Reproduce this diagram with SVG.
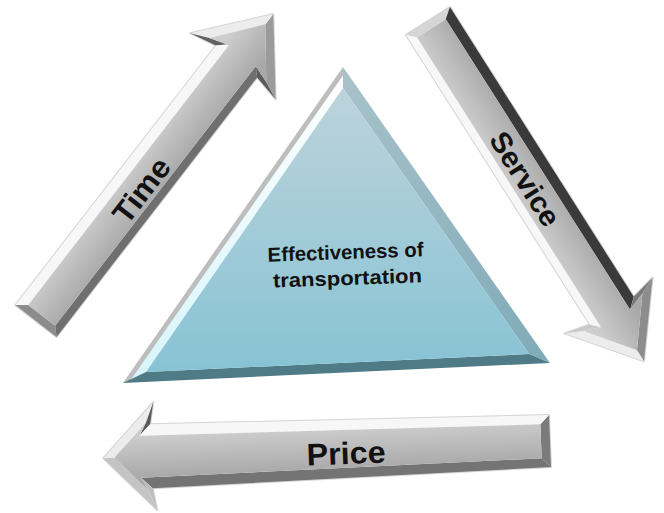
<svg xmlns="http://www.w3.org/2000/svg" width="664" height="513" viewBox="0 0 664 513">
<style>
.lbl{font-family:"Liberation Sans",Arial,sans-serif;font-weight:bold;fill:#111;}
.out{fill:none;stroke:#d4d4d4;stroke-width:2;stroke-linejoin:round;}
.wt{fill:#f7f7f7;}
.hl{fill:#ececec;}
.face{fill:url(#armFace);}
</style>
<defs>
<linearGradient id="armFace" gradientUnits="userSpaceOnUse" x1="0" y1="22" x2="0" y2="-22">
<stop offset="0" stop-color="#cdcdcd"/>
<stop offset="1" stop-color="#a8a8a8"/>
</linearGradient>
<linearGradient id="triFace" gradientUnits="userSpaceOnUse" x1="0" y1="88" x2="0" y2="372">
<stop offset="0" stop-color="#bdd3db"/>
<stop offset="1" stop-color="#87c3d4"/>
</linearGradient>
<linearGradient id="triRight" gradientUnits="userSpaceOnUse" x1="0" y1="67" x2="0" y2="363">
<stop offset="0" stop-color="#a9c2ca"/>
<stop offset="1" stop-color="#7fabb8"/>
</linearGradient>
<linearGradient id="triLeft" gradientUnits="userSpaceOnUse" x1="0" y1="67" x2="0" y2="383">
<stop offset="0" stop-color="#ffffff"/>
<stop offset="1" stop-color="#d6f5fb"/>
</linearGradient>
</defs>

<g id="triangle">
<polygon points="343,67 123,383 146,372 343,88" fill="url(#triLeft)"/>
<polygon points="343,67 123,383 130,381 344,74" fill="#bdbdbd"/>
<polygon points="343,67 550,363 529,354 343,88" fill="url(#triRight)"/>
<polygon points="123,383 550,363 529,354 146,372" fill="#4e7b86"/>
<polygon points="343,88 146,372 529,354" fill="url(#triFace)"/>
<g transform="rotate(-2 346 265)">
<text class="lbl" x="346" y="259" font-size="20" text-anchor="middle" textLength="156" lengthAdjust="spacingAndGlyphs">Effectiveness of</text>
<text class="lbl" x="347" y="285" font-size="20" text-anchor="middle" textLength="149" lengthAdjust="spacingAndGlyphs">transportation</text>
</g>
</g>

<g id="connectors">
<g id="time-arrow" transform="translate(36,321) rotate(-52.3) scale(1,-1)">
<polygon class="out" points="0,-26 328,-26 322,-54 388,0 322,54 328,26 0,26"/>
<polygon points="0,26 0,-26 8,-18 8,18" fill="#8c8c8c"/>
<polygon points="0,-26 328,-26 336,-18 8,-18" fill="#6f6f6f"/>
<polygon points="328,-26 322,-54 330,-36 336,-18" fill="#5c5c5c"/>
<polygon points="322,-54 388,0 375,0 330,-36" fill="#9b9b9b"/>
<polygon class="hl" points="388,0 322,54 330,36 375,0"/>
<polygon points="322,54 328,26 336,18 330,36" fill="#626262"/>
<polygon class="wt" points="328,26 0,26 8,16 336,16"/>
<polygon class="face" points="8,-18 336,-18 330,-36 375,0 330,36 336,16 8,16"/>
</g>
<g id="service-arrow" transform="translate(428,21) rotate(57.6)">
<polygon class="out" points="0,-26 343,-26 337,-52 403,0 337,52 343,26 0,26"/>
<polygon points="0,26 0,-26 8,-18 8,18" fill="#d5d5d5"/>
<polygon points="0,-26 343,-26 352,-16 8,-16" fill="#3a3a3a"/>
<polygon points="343,-26 337,-52 345,-35 352,-16" fill="#7a7a7a"/>
<polygon points="337,-52 403,0 390,0 345,-35" fill="#8d8d8d"/>
<polygon class="hl" points="403,0 337,52 345,35 390,0"/>
<polygon points="337,52 343,26 351,18 345,35" fill="#c9c9c9"/>
<polygon class="wt" points="343,26 0,26 8,18 351,18"/>
<polygon class="face" points="8,-16 352,-16 345,-35 390,0 345,35 351,18 8,18"/>
</g>
<g id="price-arrow" transform="translate(550,441) rotate(177.8)">
<polygon class="out" points="0,-26 399,-32 395,-54 447,0 395,54 399,32 0,26"/>
<polygon points="0,26 0,-26 9,-17 9,17" fill="#7b7b7b"/>
<polygon points="0,-26 399,-32 410,-21 9,-17" fill="#747474"/>
<polygon points="399,-32 395,-54 403,-34 410,-21" fill="#bdbdbd"/>
<polygon points="395,-54 447,0 436,0 403,-34" fill="#c4c4c4"/>
<polygon class="hl" points="447,0 395,54 403,34 436,0"/>
<polygon points="395,54 399,32 410,21 403,34" fill="#5a5a5a"/>
<polygon class="wt" points="399,32 0,26 9,17 410,21"/>
<polygon class="face" points="9,-17 410,-21 403,-34 436,0 403,34 410,21 9,17"/>
</g>
</g>

<g id="label-time" transform="translate(141,190) rotate(-52.3)">
<text class="lbl" x="0" y="11" font-size="30" text-anchor="middle" textLength="74" lengthAdjust="spacingAndGlyphs">Time</text>
</g>
<g id="label-service" transform="translate(525,179) rotate(57.6)">
<text class="lbl" x="0" y="10" font-size="29" text-anchor="middle" textLength="106" lengthAdjust="spacingAndGlyphs">Service</text>
</g>
<g id="label-price" transform="rotate(-2.2 346 453)">
<text class="lbl" x="346" y="464" font-size="31" text-anchor="middle" textLength="79" lengthAdjust="spacingAndGlyphs">Price</text>
</g>
</svg>
